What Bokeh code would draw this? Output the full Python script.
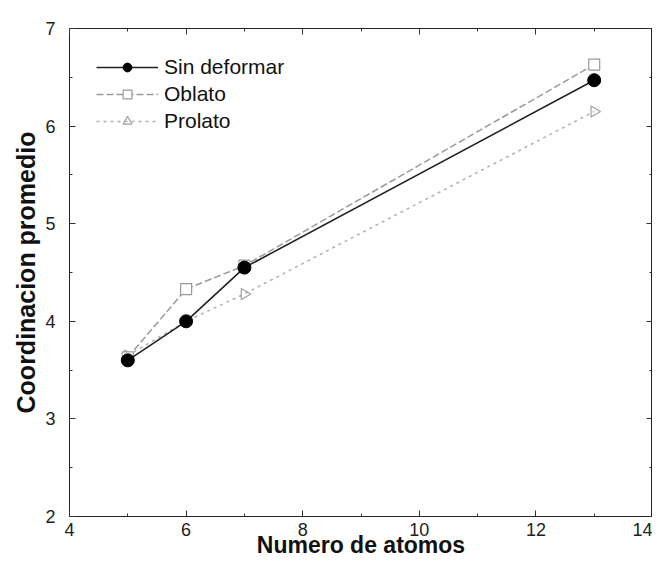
import math
from bokeh.plotting import figure
from bokeh.models import Range1d, LinearAxis, Legend, LegendItem, FixedTicker
from bokeh.embed import file_html
from bokeh.resources import INLINE

# data
atoms = [5, 6, 7, 13]
sin_deformar = [3.60, 4.00, 4.55, 6.47]
oblato = [3.63, 4.33, 4.57, 6.63]
prolato = [3.65, 4.00, 4.28, 6.15]
x_ticks = [4, 6, 8, 10, 12, 14]
x_minor = [5, 7, 9, 11, 13]
y_ticks = [2, 3, 4, 5, 6, 7]
y_minor = [2.5, 3.5, 4.5, 5.5, 6.5]

FONT = "Liberation Sans"

p = figure(width=652, height=560, output_backend="svg", toolbar_location=None,
           x_range=Range1d(4, 14), y_range=Range1d(2, 7),
           min_border_left=69, min_border_right=0, min_border_top=28,
           min_border_bottom=0)
p.grid.visible = False
p.outline_line_color = "#222222"
p.outline_line_width = 1
p.background_fill_color = "white"

def style_axis(ax, labels=True):
    ax.axis_line_color = None
    ax.major_tick_in = 6
    ax.major_tick_out = 0
    ax.minor_tick_in = 3
    ax.minor_tick_out = 0
    ax.major_tick_line_color = "#333333"
    ax.minor_tick_line_color = "#333333"
    ax.major_label_text_font = FONT
    ax.major_label_text_font_size = "18px"
    ax.major_label_text_color = "#222222"
    ax.axis_label_text_font = FONT
    ax.axis_label_text_font_style = "bold"
    ax.axis_label_text_color = "#111111"
    if not labels:
        ax.major_label_overrides = {t: "" for t in ax.ticker.ticks}
        ax.major_label_standoff = 0

xb = p.xaxis[0]
yl = p.yaxis[0]
xb.ticker = FixedTicker(ticks=x_ticks, minor_ticks=x_minor)
yl.ticker = FixedTicker(ticks=y_ticks, minor_ticks=y_minor)
style_axis(xb)
style_axis(yl)
xb.axis_label = "Numero de atomos"
xb.axis_label_text_font_size = "23px"
xb.major_label_standoff = 6
xb.axis_label_standoff = -7
yl.axis_label = "Coordinacion promedio"
yl.axis_label_text_font_size = "25px"
yl.major_label_standoff = 14
yl.axis_label_standoff = 2

xt = LinearAxis(ticker=FixedTicker(ticks=x_ticks, minor_ticks=x_minor))
style_axis(xt, labels=False)
p.add_layout(xt, "above")
yr = LinearAxis(ticker=FixedTicker(ticks=y_ticks, minor_ticks=y_minor))
style_axis(yr, labels=False)
p.add_layout(yr, "right")

# series
l_pro = p.line(atoms, prolato, line_color="#b0b0b0", line_width=1.5, line_dash="3 4")
s_pro = p.scatter(atoms, prolato, marker="triangle", angle=-math.pi / 2, size=11,
                  fill_color=None, line_color="#a0a0a0", line_width=1.2)
l_obl = p.line(atoms, oblato, line_color="#999999", line_width=1.5, line_dash="7 3")
s_obl = p.scatter(atoms, oblato, marker="square", size=11,
                  fill_color="white", line_color="#999999", line_width=1.2)
l_sin = p.line(atoms, sin_deformar, line_color="#222222", line_width=1.6)
s_sin = p.scatter(atoms, sin_deformar, marker="circle", size=13,
                  fill_color="black", line_color="black")

legend = Legend(items=[
    LegendItem(label="Sin deformar", renderers=[l_sin, s_sin]),
    LegendItem(label="Oblato", renderers=[l_obl, s_obl]),
    LegendItem(label="Prolato", renderers=[l_pro, s_pro]),
], location="top_left")
legend.border_line_color = None
legend.background_fill_alpha = 0
legend.padding = 0
legend.margin = 27
legend.spacing = 3
legend.label_height = 22
legend.glyph_height = 22
legend.glyph_width = 62
legend.label_standoff = 6
legend.label_text_font = FONT
legend.label_text_font_size = "21px"
legend.label_text_color = "#111111"
p.add_layout(legend)

open("out.html", "w").write(file_html(p, INLINE))
